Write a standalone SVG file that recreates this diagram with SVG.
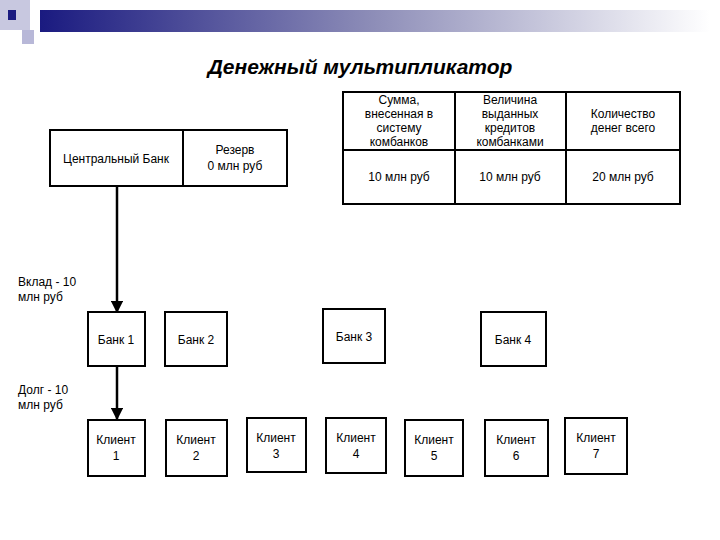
<svg xmlns="http://www.w3.org/2000/svg" width="720" height="540" viewBox="0 0 720 540">
<defs>
<linearGradient id="g" x1="0" x2="1"><stop offset="0" stop-color="#1a1a80"/><stop offset="0.5" stop-color="#8e8eb8"/><stop offset="1" stop-color="#ffffff"/></linearGradient>
<marker id="ar" viewBox="0 0 10 10" refX="9" refY="5" markerWidth="5" markerHeight="5" orient="auto"><path d="M0,0 L10,5 L0,10 z" fill="#000"/></marker>
</defs>
<style>
.b{fill:#fff;stroke:#000;stroke-width:2}
.t{font-family:"Liberation Sans",Arial,sans-serif;font-size:12px;text-anchor:middle;fill:#000}
.l{font-family:"Liberation Sans",Arial,sans-serif;font-size:12px;fill:#000}
.c{stroke:#000;stroke-width:2.5;fill:none;marker-end:url(#ar)}
</style>
<rect width="720" height="540" fill="#fff"/>
<rect x="40" y="10" width="670" height="22" fill="url(#g)"/>
<rect x="0" y="0" width="30" height="30" fill="#c8c8e0"/>
<rect x="22" y="30" width="12" height="14" fill="#b8b8d8"/>
<rect x="8" y="10" width="8" height="10" fill="#1a1a80"/>
<text x="360" y="74" style="font-family:'Liberation Sans',Arial,sans-serif;font-size:21px;font-weight:bold;font-style:italic;text-anchor:middle">Денежный мультипликатор</text>
<g id="cb">
<rect class="b" x="50" y="130" width="237" height="56"/>
<line x1="183" y1="130" x2="183" y2="186" stroke="#000" stroke-width="2"/>
<text class="t" x="116" y="163">Центральный Банк</text>
<text class="t" x="235" y="154">Резерв</text>
<text class="t" x="235" y="170">0 млн руб</text>
</g>
<g id="table">
<rect class="b" x="343" y="92" width="337" height="112"/>
<line x1="343" y1="150" x2="680" y2="150" stroke="#000" stroke-width="2"/>
<line x1="455" y1="92" x2="455" y2="204" stroke="#000" stroke-width="2"/>
<line x1="566" y1="92" x2="566" y2="204" stroke="#000" stroke-width="2"/>
<text class="t" x="399" y="104">Сумма,</text><text class="t" x="399" y="118">внесенная в</text><text class="t" x="399" y="132">систему</text><text class="t" x="399" y="146">комбанков</text>
<text class="t" x="510" y="104">Величина</text><text class="t" x="510" y="118">выданных</text><text class="t" x="510" y="132">кредитов</text><text class="t" x="510" y="146">комбанками</text>
<text class="t" x="623" y="118">Количество</text><text class="t" x="623" y="132">денег всего</text>
<text class="t" x="399" y="181">10 млн руб</text><text class="t" x="510" y="181">10 млн руб</text><text class="t" x="623" y="181">20 млн руб</text>
</g>
<g id="bank1"><rect class="b" x="88" y="312" width="57" height="54"/><text class="t" x="116" y="344">Банк 1</text></g>
<g id="bank2"><rect class="b" x="165" y="312" width="62" height="54"/><text class="t" x="196" y="344">Банк 2</text></g>
<g id="bank3"><rect class="b" x="323" y="309" width="62" height="54"/><text class="t" x="354" y="341">Банк 3</text></g>
<g id="bank4"><rect class="b" x="481" y="312" width="65" height="54"/><text class="t" x="513" y="344">Банк 4</text></g>
<g id="k1"><rect class="b" x="88" y="420" width="57" height="56"/><text class="t" x="116" y="444">Клиент</text><text class="t" x="116" y="460">1</text></g>
<g id="k2"><rect class="b" x="166" y="420" width="61" height="56"/><text class="t" x="196" y="444">Клиент</text><text class="t" x="196" y="460">2</text></g>
<g id="k3"><rect class="b" x="247" y="418" width="59" height="54"/><text class="t" x="276" y="442">Клиент</text><text class="t" x="276" y="458">3</text></g>
<g id="k4"><rect class="b" x="326" y="418" width="60" height="55"/><text class="t" x="356" y="442">Клиент</text><text class="t" x="356" y="458">4</text></g>
<g id="k5"><rect class="b" x="405" y="420" width="58" height="56"/><text class="t" x="434" y="444">Клиент</text><text class="t" x="434" y="460">5</text></g>
<g id="k6"><rect class="b" x="485" y="420" width="63" height="56"/><text class="t" x="516" y="444">Клиент</text><text class="t" x="516" y="460">6</text></g>
<g id="k7"><rect class="b" x="565" y="418" width="62" height="56"/><text class="t" x="596" y="442">Клиент</text><text class="t" x="596" y="458">7</text></g>
<g id="connectors">
<line class="c" x1="117" y1="186" x2="117" y2="312"/>
<line class="c" x1="117" y1="366" x2="117" y2="419"/>
</g>
<text class="l" x="18" y="286">Вклад - 10</text><text class="l" x="18" y="301">млн руб</text>
<text class="l" x="18" y="394">Долг - 10</text><text class="l" x="18" y="409">млн руб</text>
</svg>
